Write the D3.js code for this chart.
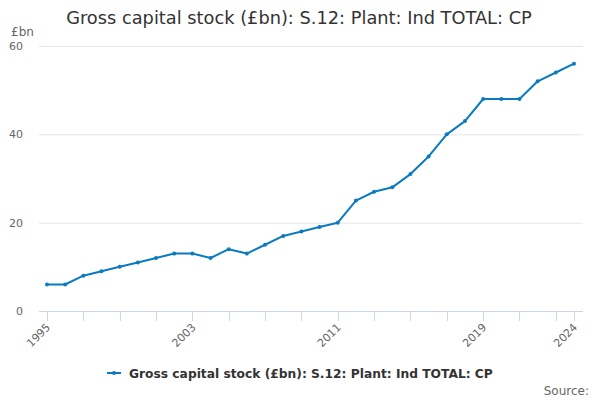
<!DOCTYPE html>
<html>
<head>
<meta charset="utf-8">
<script src="https://cdn.jsdelivr.net/npm/d3@7"></script>
<style>
  body { margin: 0; background: #fff; }
  svg { font-family: "DejaVu Sans", sans-serif; }
</style>
</head>
<body>
<div id="chart"></div>
<script>
'use strict';

const years = d3.range(1995, 2025);
const values = [6, 6, 8, 9, 10, 11, 12, 13, 13, 12, 14, 13, 15, 17, 18, 19, 20,
  25, 27, 28, 31, 35, 40, 43, 48, 48, 48, 52, 54, 56];
const yTicks = [0, 20, 40, 60];
const xTicks = d3.range(1995, 2024, 2).concat([2024]);
const xLabels = [1995, 2003, 2011, 2019, 2024];
const seriesName = 'Gross capital stock (£bn): S.12: Plant: Ind TOTAL: CP';

const width = 600, height = 400;
const plot = { left: 39, right: 583, top: 46, bottom: 311 };
const colour = '#0b7bc1';

const svg = d3.select('#chart').append('svg')
  .attr('width', width)
  .attr('height', height);

const x = d3.scaleLinear()
  .domain([1995, 2024])
  .range([47, 574]);

const y = d3.scaleLinear()
  .domain([0, 60])
  .range([plot.bottom, plot.top]);

// title
svg.append('text')
  .attr('x', width / 2 - 1)
  .attr('y', 24)
  .attr('text-anchor', 'middle')
  .attr('font-size', 17.8)
  .attr('fill', '#333')
  .text(seriesName);

// gridlines
svg.append('g')
  .selectAll('line')
  .data(yTicks.filter((d) => d > 0))
  .enter().append('line')
    .attr('x1', plot.left)
    .attr('x2', plot.right)
    .attr('y1', (d) => y(d) + 0.5)
    .attr('y2', (d) => y(d) + 0.5)
    .attr('stroke', '#e6e6e6');

// y labels
svg.append('g')
  .selectAll('text')
  .data(yTicks)
  .enter().append('text')
    .attr('x', 23)
    .attr('y', (d) => y(d) + 4)
    .attr('text-anchor', 'end')
    .attr('font-size', 11)
    .attr('fill', '#666')
    .text((d) => d);

svg.append('text')
  .attr('x', 11)
  .attr('y', 36)
  .attr('font-size', 12)
  .attr('fill', '#666')
  .text('£bn');

// x axis
svg.append('line')
  .attr('x1', plot.left)
  .attr('x2', plot.right)
  .attr('y1', plot.bottom + 0.5)
  .attr('y2', plot.bottom + 0.5)
  .attr('stroke', '#ccd6eb');

svg.append('g')
  .selectAll('line')
  .data(xTicks)
  .enter().append('line')
    .attr('x1', (d) => Math.round(x(d)) + 0.5)
    .attr('x2', (d) => Math.round(x(d)) + 0.5)
    .attr('y1', plot.bottom)
    .attr('y2', plot.bottom + 10)
    .attr('stroke', '#ccd6eb');

svg.append('g')
  .selectAll('text')
  .data(xLabels)
  .enter().append('text')
    .attr('transform', (d) => `translate(${x(d) + 4},${plot.bottom + 17}) rotate(-45)`)
    .attr('text-anchor', 'end')
    .attr('font-size', 11)
    .attr('fill', '#666')
    .text((d) => d);

// series
const points = years.map((yr, i) => ({ year: yr, value: values[i] }));

svg.append('path')
  .datum(points)
  .attr('fill', 'none')
  .attr('stroke', colour)
  .attr('stroke-width', 2)
  .attr('stroke-linejoin', 'round')
  .attr('d', d3.line().x((d) => x(d.year)).y((d) => y(d.value)));

svg.append('g')
  .selectAll('circle')
  .data(points)
  .enter().append('circle')
    .attr('cx', (d) => x(d.year))
    .attr('cy', (d) => y(d.value))
    .attr('r', 2)
    .attr('fill', colour);

// legend
const legend = svg.append('g');
legend.append('line')
  .attr('x1', 107).attr('x2', 121)
  .attr('y1', 373).attr('y2', 373)
  .attr('stroke', colour)
  .attr('stroke-width', 2);
legend.append('circle')
  .attr('cx', 114).attr('cy', 373).attr('r', 2)
  .attr('fill', colour);
legend.append('text')
  .attr('x', 129)
  .attr('y', 377.5)
  .attr('font-size', 12.25)
  .attr('font-weight', 'bold')
  .attr('fill', '#333')
  .text(seriesName);

svg.append('text')
  .attr('x', 589)
  .attr('y', 395)
  .attr('text-anchor', 'end')
  .attr('font-size', 12)
  .attr('fill', '#666')
  .text('Source:');
</script>
</body>
</html>
